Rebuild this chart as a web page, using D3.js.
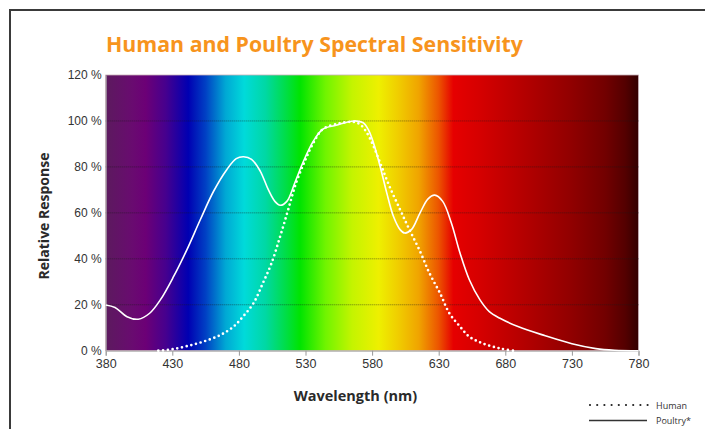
<!DOCTYPE html>
<html>
<head>
<meta charset="utf-8">
<script src="https://cdn.jsdelivr.net/npm/d3@7"></script>
<style>
  body { margin: 0; background: #fff; }
  svg { display: block; font-family: "Open Sans", "DejaVu Sans", sans-serif; }
</style>
</head>
<body>
<svg id="chart" width="705" height="429"></svg>
<script>
// wavelength ticks (nm) and response ticks (%)
const xTicks = [380, 430, 480, 530, 580, 630, 680, 730, 780];
const yTicks = [0, 20, 40, 60, 80, 100, 120];

// poultry sensitivity
const poultryWl = [380, 387, 396, 404.5, 413, 421, 431, 441, 451, 461, 471, 478, 483.5, 489.5, 496, 502, 507, 511, 516, 522, 528, 536, 543, 553, 566, 573, 577, 581, 586, 591, 596, 601, 604.5, 609.5, 616, 622, 627, 633, 639.5, 646, 653, 661, 668, 676, 690, 710, 730, 748, 762, 780];
const poultryVal = [19.9, 18.8, 14.8, 13.7, 16.3, 22.1, 32.3, 44, 57, 69.4, 78.9, 83.6, 84.4, 83.3, 78.2, 70.2, 65, 63.3, 65, 73.1, 81.8, 91.3, 96.4, 98.1, 100, 99.3, 96.4, 90.5, 80.3, 68.7, 58.5, 52.7, 51.2, 52.7, 60, 66.1, 67.7, 65, 55.6, 42.5, 30.9, 22.1, 17, 14.1, 10.4, 6.5, 3, 0.9, 0.2, 0];

// human (photopic) sensitivity
const humanWl = [419.5, 429.5, 441, 453, 466, 476, 483, 491, 498, 504.5, 511, 517, 523, 529.5, 536, 543, 556, 566, 571, 576, 581, 587, 593, 601, 608, 616, 623, 631, 638, 646, 653, 663, 676, 686];
const humanVal = [0, 0.6, 2, 3.9, 6.8, 10.5, 14.8, 20.7, 29.4, 38.1, 49.8, 61.4, 73.1, 82.5, 90.5, 96.4, 99, 99.6, 98.5, 94.9, 89.1, 80.3, 71.6, 61.4, 52.7, 43.2, 33.8, 25, 16.3, 10.5, 6.1, 3.2, 1, 0];

// spectrum background stops
const specWl = [380, 400, 410, 425, 442, 455, 470, 484, 500, 515, 526, 545, 565, 585, 600, 615, 630, 641, 660, 680, 700, 730, 755, 770, 780];
const specColor = ["#5c1a5e", "#690b70", "#6c0076", "#46008e", "#0000b2", "#0040c4", "#00a8d4", "#00dada", "#00d8a4", "#00de48", "#00e400", "#70f400", "#c4f400", "#eef000", "#f0cc00", "#f0a400", "#ec5400", "#e60000", "#d60000", "#c20000", "#ae0000", "#900000", "#720000", "#540000", "#320000"];

const svg = d3.select("#chart");
const margin = { top: 75, left: 105.7, right: 66.5, bottom: 78.3 };
const width = 705 - margin.left - margin.right,
    height = 429 - margin.top - margin.bottom;

// frame
svg.append("rect")
    .attr("x", 10).attr("y", 10)
    .attr("width", 800).attr("height", 600)
    .attr("fill", "none")
    .attr("stroke", "#3a3a3a")
    .attr("stroke-width", 2);

svg.append("text")
    .attr("x", 106).attr("y", 52)
    .attr("fill", "#f7941d")
    .attr("font-size", 22)
    .attr("font-weight", "bold")
    .attr("textLength", 417)
    .attr("lengthAdjust", "spacingAndGlyphs")
    .text("Human and Poultry Spectral Sensitivity");

const g = svg.append("g").attr("transform", "translate(" + margin.left + "," + margin.top + ")");

const x = d3.scaleLinear().domain([380, 780]).range([0, width]);
const y = d3.scaleLinear().domain([0, 120]).range([height, 0]);

// spectrum gradient
const grad = svg.append("defs").append("linearGradient")
    .attr("id", "spectrum")
    .attr("gradientUnits", "userSpaceOnUse")
    .attr("x1", x(380)).attr("x2", x(780))
    .attr("y1", 0).attr("y2", 0);
grad.selectAll("stop")
    .data(specWl)
    .join("stop")
    .attr("offset", d => (x(d) - x(380)) / (x(780) - x(380)))
    .attr("stop-color", (d, i) => specColor[i]);

g.append("rect")
    .attr("width", width).attr("height", height)
    .attr("fill", "url(#spectrum)")
    .attr("stroke", "#c9b0b8")
    .attr("stroke-width", 0.8);

// dotted gridlines
g.append("g")
    .selectAll("line")
    .data(yTicks.filter(d => d > 0 && d < 120))
    .join("line")
    .attr("x1", 0).attr("x2", width)
    .attr("y1", d => y(d)).attr("y2", d => y(d))
    .attr("stroke", "#1a1a1a")
    .attr("stroke-opacity", 0.55)
    .attr("stroke-dasharray", "1,1");

// axes
const xAxis = g.append("g")
    .attr("transform", "translate(0," + height + ")")
    .call(d3.axisBottom(x).tickValues(xTicks).tickSize(5).tickPadding(3).tickFormat(d3.format("d")));
xAxis.select(".domain").attr("stroke", "#aaa");
xAxis.selectAll(".tick line").attr("stroke", "#999");
xAxis.selectAll("text").attr("font-size", 12.5).attr("fill", "#333");

const yAxis = g.append("g")
    .call(d3.axisLeft(y).tickValues(yTicks).tickSize(0).tickPadding(4).tickFormat(d => d + " %"));
yAxis.select(".domain").attr("stroke", "#aaa");
yAxis.selectAll("text").attr("font-size", 12).attr("fill", "#333");

// curves
const line = d3.line()
    .x(d => x(d[0]))
    .y(d => y(d[1]))
    .curve(d3.curveCatmullRom.alpha(0.5));

g.append("path")
    .datum(poultryWl.map((w, i) => [w, poultryVal[i]]))
    .attr("d", line)
    .attr("fill", "none")
    .attr("stroke", "#fff")
    .attr("stroke-width", 1.6);

g.append("path")
    .datum(humanWl.map((w, i) => [w, humanVal[i]]))
    .attr("d", line)
    .attr("fill", "none")
    .attr("stroke", "#fff")
    .attr("stroke-width", 2.7)
    .attr("stroke-linecap", "round")
    .attr("stroke-dasharray", "0,4.8");

// axis titles
svg.append("text")
    .attr("transform", "translate(49,216) rotate(-90)")
    .attr("text-anchor", "middle")
    .attr("font-size", 14)
    .attr("font-weight", "bold")
    .attr("fill", "#2a2a2a")
    .text("Relative Response");

svg.append("text")
    .attr("x", 355.5).attr("y", 401)
    .attr("text-anchor", "middle")
    .attr("font-size", 14.5)
    .attr("font-weight", "bold")
    .attr("fill", "#2a2a2a")
    .text("Wavelength (nm)");

// legend
const legend = svg.append("g").attr("font-size", 9).attr("fill", "#333");
legend.append("line")
    .attr("x1", 590).attr("x2", 648).attr("y1", 405).attr("y2", 405)
    .attr("stroke", "#222").attr("stroke-width", 2.2)
    .attr("stroke-linecap", "round")
    .attr("stroke-dasharray", "0,7.2");
legend.append("text").attr("x", 656).attr("y", 408.5).text("Human");
legend.append("line")
    .attr("x1", 589).attr("x2", 647).attr("y1", 420.5).attr("y2", 420.5)
    .attr("stroke", "#333").attr("stroke-width", 1.3);
legend.append("text").attr("x", 656).attr("y", 424).text("Poultry*");
</script>
</body>
</html>
